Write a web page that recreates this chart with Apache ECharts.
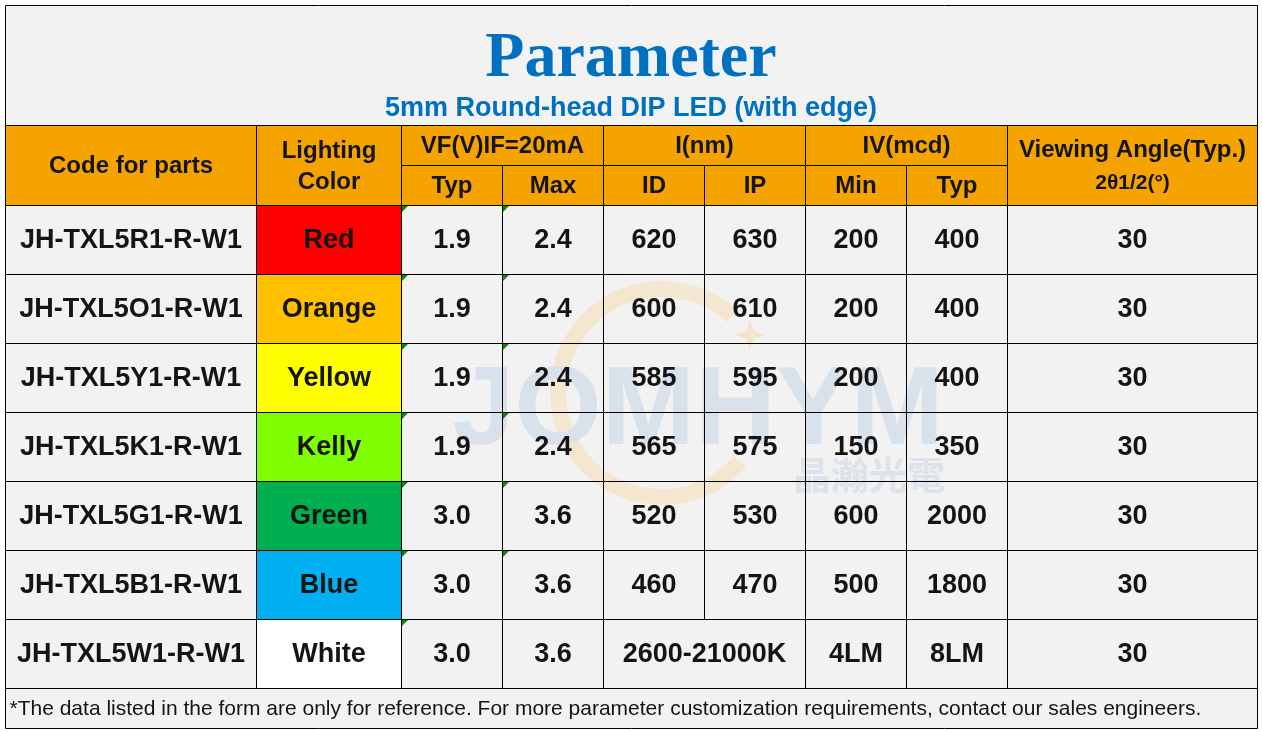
<!DOCTYPE html>
<html><head><meta charset="utf-8">
<script src="https://cdn.jsdelivr.net/npm/echarts@6/dist/echarts.min.js"></script>
<style>html,body{margin:0;padding:0;background:#fff}#c{width:1262px;height:732px}</style>
</head><body><div id="c"></div>
<script>
// ---------- data ----------
const titleText = 'Parameter';
const subtitleText = '5mm Round-head DIP LED (with edge)';
const headCode = 'Code for parts';
const headColor = 'Lighting\nColor';
const headVF = 'VF(V)IF=20mA';
const headWL = 'I(nm)';
const headIV = 'IV(mcd)';
const headAngle = 'Viewing Angle(Typ.)';
const headAngleSub = '2θ1/2(°)';
const subHeads = ['Typ', 'Max', 'ID', 'IP', 'Min', 'Typ'];
const partCodes = ['JH-TXL5R1-R-W1', 'JH-TXL5O1-R-W1', 'JH-TXL5Y1-R-W1', 'JH-TXL5K1-R-W1', 'JH-TXL5G1-R-W1', 'JH-TXL5B1-R-W1', 'JH-TXL5W1-R-W1'];
const colorNames = ['Red', 'Orange', 'Yellow', 'Kelly', 'Green', 'Blue', 'White'];
const colorSwatches = ['#FF0000', '#FFC000', '#FFFF00', '#80FF00', '#00B050', '#00B0F0', '#FFFFFF'];
const vfTyp = ['1.9', '1.9', '1.9', '1.9', '3.0', '3.0', '3.0'];
const vfMax = ['2.4', '2.4', '2.4', '2.4', '3.6', '3.6', '3.6'];
const wlID = ['620', '600', '585', '565', '520', '460', null];
const wlIP = ['630', '610', '595', '575', '530', '470', null];
const whiteCCT = '2600-21000K';
const ivMin = ['200', '200', '200', '150', '600', '500', '4LM'];
const ivTyp = ['400', '400', '400', '350', '2000', '1800', '8LM'];
const viewAngle = ['30', '30', '30', '30', '30', '30', '30'];
const vfMaxMarked = [true, true, true, true, true, true, false];
const footnote = '*The data listed in the form are only for reference. For more parameter customization requirements, contact our sales engineers.';

// ---------- layout ----------
const COL_W = [251, 145, 101, 101, 101, 101, 101, 101, 250];
const ROW_H = [120, 40, 40, 69, 69, 69, 69, 69, 69, 69, 40];
const xEdges = [0]; COL_W.forEach(w => xEdges.push(xEdges[xEdges.length - 1] + w));
const yEdges = [0]; ROW_H.forEach(h => yEdges.push(yEdges[yEdges.length - 1] + h));
const TOTAL_W = xEdges[xEdges.length - 1];
const TOTAL_H = yEdges[yEdges.length - 1];

const BG = '#F2F2F2', HEAD = '#F5A300', INK = '#141414';
const FF = '"Liberation Sans", Arial, sans-serif';

const cells = [];
function cell(c0, c1, r0, r1, text, opts) {
  cells.push(Object.assign({ c0, c1, r0, r1, text, fill: BG, size: 27, weight: 'bold', align: 'center', marker: false }, opts || {}));
}
// title cell (text drawn by title component)
cell(0, 8, 0, 0, '', {});
// header
cell(0, 0, 1, 2, headCode, { fill: HEAD, size: 24 });
cell(1, 1, 1, 2, headColor, { fill: HEAD, size: 24, lh: 31 });
cell(2, 3, 1, 1, headVF, { fill: HEAD, size: 24 });
cell(4, 5, 1, 1, headWL, { fill: HEAD, size: 24 });
cell(6, 7, 1, 1, headIV, { fill: HEAD, size: 24 });
cell(8, 8, 1, 2, headAngle, { fill: HEAD, size: 24, sub: headAngleSub });
subHeads.forEach((s, i) => cell(2 + i, 2 + i, 2, 2, s, { fill: HEAD, size: 24 }));
// body
partCodes.forEach((code, i) => {
  const r = 3 + i;
  cell(0, 0, r, r, code);
  cell(1, 1, r, r, colorNames[i], { fill: colorSwatches[i] });
  cell(2, 2, r, r, vfTyp[i], { marker: true });
  cell(3, 3, r, r, vfMax[i], { marker: vfMaxMarked[i] });
  if (wlID[i] === null) {
    cell(4, 5, r, r, whiteCCT);
  } else {
    cell(4, 4, r, r, wlID[i]);
    cell(5, 5, r, r, wlIP[i]);
  }
  cell(6, 6, r, r, ivMin[i]);
  cell(7, 7, r, r, ivTyp[i]);
  cell(8, 8, r, r, viewAngle[i]);
});
cell(0, 8, 10, 10, footnote, { size: 21, weight: 'normal', align: 'left' });

const seriesData = cells.map(c => [xEdges[c.c0], yEdges[c.r0], xEdges[c.c1 + 1], yEdges[c.r1 + 1]]);

function rectOf(api) {
  const p0 = api.coord([api.value(0), api.value(1)]);
  const p1 = api.coord([api.value(2), api.value(3)]);
  const x0 = Math.round(p0[0]) + 0.5, y0 = Math.round(p0[1]) + 0.5;
  const x1 = Math.round(p1[0]) + 0.5, y1 = Math.round(p1[1]) + 0.5;
  return { x0, y0, x1, y1 };
}

function renderFill(params, api) {
  const c = cells[params.dataIndex];
  const r = rectOf(api);
  return { type: 'rect', shape: { x: r.x0, y: r.y0, width: r.x1 - r.x0, height: r.y1 - r.y0 }, style: { fill: c.fill, stroke: null } };
}

function renderInk(params, api) {
  const c = cells[params.dataIndex];
  const r = rectOf(api);
  const children = [{ type: 'rect', shape: { x: r.x0, y: r.y0, width: r.x1 - r.x0, height: r.y1 - r.y0 }, style: { fill: null, stroke: '#000', lineWidth: 1 } }];
  const cx = (r.x0 + r.x1) / 2, cy = (r.y0 + r.y1) / 2;
  if (c.text) {
    if (c.sub) {
      children.push({ type: 'text', style: { text: c.text, x: cx, y: cy - 15, align: 'center', verticalAlign: 'middle', fontSize: c.size, fontWeight: c.weight, fontFamily: FF, fill: INK } });
      children.push({ type: 'text', style: { text: c.sub, x: cx, y: cy + 18, align: 'center', verticalAlign: 'middle', fontSize: 21, fontWeight: 'bold', fontFamily: FF, fill: INK } });
    } else {
      children.push({ type: 'text', style: { text: c.text, x: c.align === 'left' ? r.x0 + 4 : cx, y: cy + 1, align: c.align, verticalAlign: 'middle', fontSize: c.size, fontWeight: c.weight, fontFamily: FF, fill: INK, lineHeight: c.lh || c.size * 1.2 } });
    }
  }
  if (c.marker) {
    children.push({ type: 'polygon', shape: { points: [[r.x0 + 0.5, r.y0 + 0.5], [r.x0 + 6.5, r.y0 + 0.5], [r.x0 + 0.5, r.y0 + 6.5]] }, style: { fill: '#0B8A0B' } });
  }
  return { type: 'group', children };
}

const chart = echarts.init(document.getElementById('c'), null, { renderer: 'canvas' });
chart.setOption({
  animation: false,
  backgroundColor: '#fff',
  title: [
    { text: titleText, left: 'center', top: 22, textStyle: { fontSize: 64, fontWeight: 'bold', fontFamily: '"Liberation Serif", "Times New Roman", serif', color: '#0070C0' }, z: 20 },
    { text: subtitleText, left: 'center', top: 90, textStyle: { fontSize: 27, fontWeight: 'bold', fontFamily: FF, color: '#0070C0' }, z: 20 }
  ],
  grid: { left: 5, top: 5, width: TOTAL_W, height: TOTAL_H },
  xAxis: { type: 'value', min: 0, max: TOTAL_W, show: false },
  yAxis: { type: 'value', min: 0, max: TOTAL_H, inverse: true, show: false },
  graphic: [
    { type: 'arc', z: 5, silent: true, shape: { cx: 662, cy: 393, r: 104, startAngle: 0.72, endAngle: 5.45, clockwise: true }, style: { stroke: '#F5E4CC', lineWidth: 16, fill: null, opacity: 0.9 } },
    { type: 'polygon', z: 5, silent: true, shape: { points: [[750, 320], [754, 331], [765, 335], [754, 339], [750, 350], [746, 339], [735, 335], [746, 331]] }, style: { fill: '#F5E4CC' } },
    { type: 'text', z: 6, silent: true, style: { text: 'JOMHYM', x: 698, y: 413, align: 'center', verticalAlign: 'middle', fontSize: 112, fontWeight: 'bold', fontFamily: FF, fill: '#D9E1EA' } },
    { type: 'text', z: 6, silent: true, style: { text: '晶瀚光電', x: 869, y: 475, align: 'center', verticalAlign: 'middle', fontSize: 38, fontWeight: 'bold', fontFamily: '"Noto Sans CJK TC", sans-serif', fill: '#DCE3EB' } }
  ],
  series: [
    { type: 'custom', z: 1, silent: true, coordinateSystem: 'cartesian2d', renderItem: renderFill, data: seriesData, clip: false },
    { type: 'custom', z: 10, silent: true, coordinateSystem: 'cartesian2d', renderItem: renderInk, data: seriesData, clip: false }
  ]
});
</script>
</body></html>
